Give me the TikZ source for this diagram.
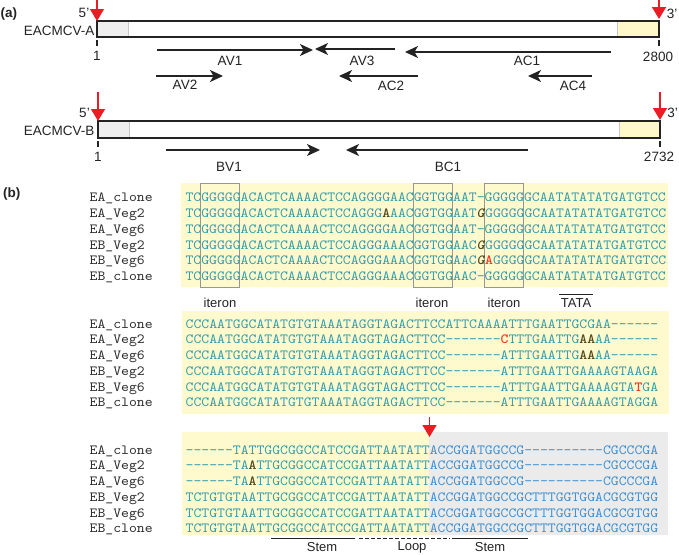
\documentclass[tikz,border=0pt]{standalone}
\usepackage{fontspec}
\setmainfont{Liberation Sans}
\setmonofont{lmmono10-regular.otf}[Ligatures=TeXOff,
  BoldFont=lmmonolt10-bold.otf,
  ItalicFont=lmmono10-italic.otf,
  BoldItalicFont=lmmonolt10-boldoblique.otf]
\usetikzlibrary{arrows.meta}
\definecolor{seqteal}{RGB}{52,155,168}
\definecolor{seqblue}{RGB}{62,142,208}
\definecolor{hlolive}{RGB}{80,72,28}
\definecolor{hlred}{RGB}{238,58,36}
\definecolor{arrred}{RGB}{236,28,36}
\definecolor{txtdark}{RGB}{35,35,35}
\definecolor{namegray}{RGB}{45,45,45}
\definecolor{bgyellow}{RGB}{255,250,206}
\definecolor{bggray}{RGB}{235,235,235}
\definecolor{boxgray}{RGB}{150,150,150}
\definecolor{bargray}{RGB}{238,238,238}
\definecolor{baryellow}{RGB}{255,248,200}
\newcommand\seqB[1]{\textcolor{hlolive}{\textbf{#1}}}
\newcommand\seqI[1]{\textcolor{hlolive}{\textbf{\textit{#1}}}}
\newcommand\seqR[1]{\textcolor{hlred}{\textbf{#1}}}
\newcommand\seqtxt[1]{\scalebox{1.0714}[1]{#1}}
\begin{document}
\begin{tikzpicture}[x=1pt,y=-1pt,
  lbl/.style={font=\fontsize{13.5}{15}\selectfont, text=txtdark, inner sep=0pt},
  sublbl/.style={font=\fontsize{13}{15}\selectfont, text=txtdark, inner sep=0pt},
  panel/.style={font=\bfseries\fontsize{13.5}{15}\selectfont, text=txtdark, inner sep=0pt, anchor=west},
  gene/.style={line width=1.4pt, draw=txtdark, -{Stealth[length=13pt,width=12pt,inset=3.5pt]}},
  redarr/.style={line width=1.5pt, draw=arrred, -{Triangle[length=12pt,width=14pt]}},
  tick/.style={line width=1.2pt, draw=txtdark},
  bar/.style={line width=1.5pt, draw=txtdark},
  seqname/.style={font=\ttfamily\fontsize{14}{16}\selectfont, anchor=base west, inner sep=0pt, text=namegray},
  seqrow/.style={font=\ttfamily\fontsize{14}{16}\selectfont, anchor=base west, inner sep=0pt, text=seqteal},
  iterbox/.style={draw=boxgray, line width=0.8pt},
  under/.style={line width=0.9pt, draw=txtdark}]
\useasboundingbox (0,0) rectangle (679,554);

% ---------------- (a) ----------------
\node[panel] (pa) at (0.5,14) {(a)};

% EACMCV-A
\filldraw[fill=bargray, draw=black!22, line width=0.8pt] (97,21) rectangle (128,37);
\filldraw[fill=baryellow, draw=black!22, line width=0.8pt] (617,21) rectangle (659,37);
\draw[bar] (97,21) rectangle (659,37);
\node[lbl, anchor=east] (nA) at (94.5,31) {EACMCV-A};
\coordinate (a5top) at (97,0);
\coordinate (a5tip) at (97,21);
\draw[redarr] (a5top) -- (a5tip);
\coordinate (a3top) at (659,0);
\coordinate (a3tip) at (659,19);
\draw[redarr] (a3top) -- (a3tip);
\node[lbl] (a5) at (84,13) {5'};
\node[lbl] (a3) at (672,14) {3'};
\draw[tick] (97,40) -- (97,46);
\draw[tick] (659,40) -- (659,46);
\node[lbl] (a1) at (97,56) {1};
\node[lbl] (a2800) at (658,57) {2800};

\draw[gene] (157,50) -- (313,50);
\node[lbl] (lAV1) at (230,61) {AV1};
\draw[gene] (395,49) -- (315,49);
\node[lbl] (lAV3) at (362,61) {AV3};
\draw[gene] (611,52) -- (405,52);
\node[lbl] (lAC1) at (527,61) {AC1};
\draw[gene] (156,76) -- (223,76);
\node[lbl] (lAV2) at (185,85) {AV2};
\draw[gene] (418,76) -- (339,76);
\node[lbl] (lAC2) at (391,86) {AC2};
\draw[gene] (592,76) -- (528,76);
\node[lbl] (lAC4) at (573,86) {AC4};

% EACMCV-B
\filldraw[fill=bargray, draw=black!22, line width=0.8pt] (98,121) rectangle (129,138);
\filldraw[fill=baryellow, draw=black!22, line width=0.8pt] (619,121) rectangle (660,138);
\draw[bar] (98,121) rectangle (660,138);
\node[lbl, anchor=east] (nB) at (94.5,131) {EACMCV-B};
\coordinate (b5top) at (98,92);
\coordinate (b5tip) at (98,121);
\draw[redarr] (b5top) -- (b5tip);
\coordinate (b3top) at (660,92);
\coordinate (b3tip) at (660,120);
\draw[redarr] (b3top) -- (b3tip);
\node[lbl] (b5) at (84.5,113) {5'};
\node[lbl] (b3) at (672.5,113) {3'};
\draw[tick] (98,141) -- (98,147);
\draw[tick] (660,141) -- (660,147);
\node[lbl] (b1) at (98,157) {1};
\node[lbl] (b2732) at (659,157) {2732};
\draw[gene] (166,150) -- (320,150);
\node[lbl] (lBV1) at (229,167) {BV1};
\draw[gene] (528,150) -- (346,150);
\node[lbl] (lBC1) at (448,167) {BC1};

% ---------------- (b) ----------------
\node[panel] (pb) at (3,194) {(b)};

% block 1
\fill[bgyellow] (181,183) rectangle (668,287);
\draw[iterbox] (200,183) rectangle (239.5,287);
\draw[iterbox] (413,183) rectangle (452,287);
\draw[iterbox] (484,183) rectangle (523,287);

\node[seqname] (n1a) at (89.5,201.7) {\seqtxt{EA\_clone}};
\node[seqname] (n1b) at (89.5,217.5) {\seqtxt{EA\_Veg2}};
\node[seqname] (n1c) at (89.5,233.3) {\seqtxt{EA\_Veg6}};
\node[seqname] (n1d) at (89.5,249.1) {\seqtxt{EB\_Veg2}};
\node[seqname] (n1e) at (89.5,264.9) {\seqtxt{EB\_Veg6}};
\node[seqname] (n1f) at (89.5,280.7) {\seqtxt{EB\_clone}};

\node[seqrow] (s1a) at (185.3,201.7) {\seqtxt{TCGGGGGACACTCAAAACTCCAGGGGAACGGTGGAAT-GGGGGGCAATATATATGATGTCC}};
\node[seqrow] (s1b) at (185.3,217.5) {\seqtxt{TCGGGGGACACTCAAAACTCCAGGG\seqB{A}AACGGTGGAAT\seqI{G}GGGGGGCAATATATATGATGTCC}};
\node[seqrow] (s1c) at (185.3,233.3) {\seqtxt{TCGGGGGACACTCAAAACTCCAGGGGAACGGTGGAAT-GGGGGGCAATATATATGATGTCC}};
\node[seqrow] (s1d) at (185.3,249.1) {\seqtxt{TCGGGGGACACTCAAAACTCCAGGGAAACGGTGGAAC\seqI{G}GGGGGGCAATATATATGATGTCC}};
\node[seqrow] (s1e) at (185.3,264.9) {\seqtxt{TCGGGGGACACTCAAAACTCCAGGGAAACGGTGGAAC\seqI{G}\seqR{A}GGGGGCAATATATATGATGTCC}};
\node[seqrow] (s1f) at (185.3,280.7) {\seqtxt{TCGGGGGACACTCAAAACTCCAGGGAAACGGTGGAAC-GGGGGGCAATATATATGATGTCC}};

\node[sublbl] (it1) at (220,303) {iteron};
\node[sublbl] (it2) at (432,303) {iteron};
\node[sublbl] (it3) at (504,303) {iteron};
\node[sublbl] (tata) at (576,303) {TATA};
\draw[under] (559,294) -- (593,294);

% block 2
\fill[bgyellow] (182,311) rectangle (669,414);
\node[seqname] (n2a) at (89.5,328) {\seqtxt{EA\_clone}};
\node[seqname] (n2b) at (89.5,343.75) {\seqtxt{EA\_Veg2}};
\node[seqname] (n2c) at (89.5,359.5) {\seqtxt{EA\_Veg6}};
\node[seqname] (n2d) at (89.5,375.25) {\seqtxt{EB\_Veg2}};
\node[seqname] (n2e) at (89.5,391) {\seqtxt{EB\_Veg6}};
\node[seqname] (n2f) at (89.5,406.75) {\seqtxt{EB\_clone}};

\node[seqrow] (s2a) at (185.5,328) {\seqtxt{CCCAATGGCATATGTGTAAATAGGTAGACTTCCATTCAAAATTTGAATTGCGAA------}};
\node[seqrow] (s2b) at (185.5,343.75) {\seqtxt{CCCAATGGCATATGTGTAAATAGGTAGACTTCC-------\seqR{C}TTTGAATTG\seqB{AA}AA------}};
\node[seqrow] (s2c) at (185.5,359.5) {\seqtxt{CCCAATGGCATATGTGTAAATAGGTAGACTTCC-------ATTTGAATTG\seqB{AA}AA------}};
\node[seqrow] (s2d) at (185.5,375.25) {\seqtxt{CCCAATGGCATATGTGTAAATAGGTAGACTTCC-------ATTTGAATTGAAAAGTAAGA}};
\node[seqrow] (s2e) at (185.5,391) {\seqtxt{CCCAATGGCATATGTGTAAATAGGTAGACTTCC-------ATTTGAATTGAAAAGTA\seqR{T}GA}};
\node[seqrow] (s2f) at (185.5,406.75) {\seqtxt{CCCAATGGCATATGTGTAAATAGGTAGACTTCC-------ATTTGAATTGAAAAGTAGGA}};

% block 3
\fill[bgyellow] (182,432) rectangle (429,535);
\fill[bggray] (429,432) rectangle (668,535);
\coordinate (r3top) at (429.5,417);
\coordinate (r3tip) at (429.5,437);
\draw[redarr] (r3top) -- (r3tip);

\node[seqname] (n3a) at (89.5,454) {\seqtxt{EA\_clone}};
\node[seqname] (n3b) at (89.5,469.75) {\seqtxt{EA\_Veg2}};
\node[seqname] (n3c) at (89.5,485.5) {\seqtxt{EA\_Veg6}};
\node[seqname] (n3d) at (89.5,501.25) {\seqtxt{EB\_Veg2}};
\node[seqname] (n3e) at (89.5,517) {\seqtxt{EB\_Veg6}};
\node[seqname] (n3f) at (89.5,532.75) {\seqtxt{EB\_clone}};

\node[seqrow] (s3a) at (185.5,454) {\seqtxt{------TATTGGCGGCCATCCGATTAATATT\textcolor{seqblue}{ACCGGATGGCCG----------CGCCCGA}}};
\node[seqrow] (s3b) at (185.5,469.75) {\seqtxt{------TA\seqB{A}TTGCGGCCATCCGATTAATATT\textcolor{seqblue}{ACCGGATGGCCG----------CGCCCGA}}};
\node[seqrow] (s3c) at (185.5,485.5) {\seqtxt{------TA\seqB{A}TTGCGGCCATCCGATTAATATT\textcolor{seqblue}{ACCGGATGGCCG----------CGCCCGA}}};
\node[seqrow] (s3d) at (185.5,501.25) {\seqtxt{TCTGTGTAATTGCGGCCATCCGATTAATATT\textcolor{seqblue}{ACCGGATGGCCGCTTTGGTGGACGCGTGG}}};
\node[seqrow] (s3e) at (185.5,517) {\seqtxt{TCTGTGTAATTGCGGCCATCCGATTAATATT\textcolor{seqblue}{ACCGGATGGCCGCTTTGGTGGACGCGTGG}}};
\node[seqrow] (s3f) at (185.5,532.75) {\seqtxt{TCTGTGTAATTGCGGCCATCCGATTAATATT\textcolor{seqblue}{ACCGGATGGCCGCTTTGGTGGACGCGTGG}}};

\draw[under] (271,538.5) -- (355,538.5);
\draw[under, dash pattern=on 4pt off 2pt] (359,538.5) -- (450,538.5);
\draw[under] (452,538.5) -- (528,538.5);
\node[sublbl] (st1) at (322,547) {Stem};
\node[sublbl] (lp) at (412,547.5) {Loop};
\node[sublbl] (st2) at (490,547) {Stem};
\end{tikzpicture}
\end{document}
